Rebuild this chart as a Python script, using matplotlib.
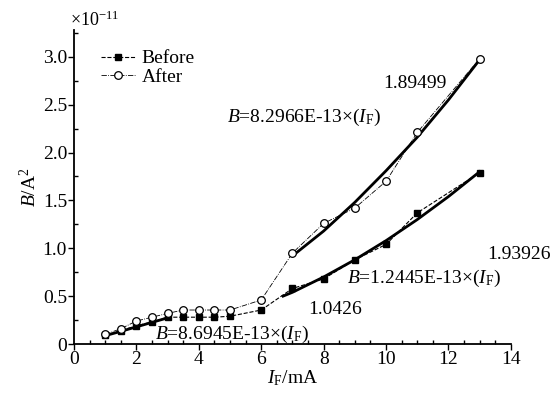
import matplotlib

matplotlib.use("Agg")

import matplotlib.pyplot as plt
from matplotlib.ticker import MultipleLocator

plt.rcParams["font.family"] = ["Liberation Serif", "DejaVu Serif"]
plt.rcParams["mathtext.fontset"] = "custom"
plt.rcParams["mathtext.rm"] = "Liberation Serif"
plt.rcParams["mathtext.it"] = "Liberation Serif:italic"

# measured points (B in units of 1e-11 A^2)
current_ma = [1, 1.5, 2, 2.5, 3, 3.5, 4, 4.5, 5, 6, 7, 8, 9, 10, 11, 13]
before_b = [0.09, 0.14, 0.19, 0.23, 0.28, 0.28, 0.28, 0.28, 0.29, 0.355, 0.58, 0.68, 0.88, 1.04, 1.37, 1.79]
after_b = [0.10, 0.16, 0.24, 0.28, 0.32, 0.355, 0.355, 0.355, 0.355, 0.46, 0.95, 1.26, 1.42, 1.70, 2.21, 2.98]

# fitted curves
fit_low_x = [1, 1.5, 2, 2.5, 3]
fit_low_b = [0.087, 0.132, 0.179, 0.226, 0.273]
fit_before_x = [6.7, 7, 8, 9, 10, 11, 12, 13]
fit_before_b = [0.50, 0.54, 0.70, 0.88, 1.08, 1.30, 1.54, 1.80]
fit_after_x = [7, 8, 9, 10, 11, 12, 13]
fit_after_b = [0.92, 1.18, 1.48, 1.81, 2.16, 2.55, 2.97]

fig = plt.figure(figsize=(5.54, 3.97), dpi=100)
ax = fig.add_axes([0.1336, 0.1335, 0.7886, 0.791])

ax.plot(fit_low_x, fit_low_b, color="black", linewidth=2.0)
ax.plot(fit_before_x, fit_before_b, color="black", linewidth=2.0)
ax.plot(fit_after_x, fit_after_b, color="black", linewidth=2.0)

ax.plot(current_ma, before_b, color="black", linestyle="--", linewidth=0.8,
        marker="s", markersize=5, markerfacecolor="black", label="Before")
ax.plot(current_ma, after_b, color="black", linestyle="-.", linewidth=0.6,
        marker="o", markersize=5.5, markerfacecolor="white", markeredgewidth=0.9,
        label="After")

ax.set_xlim(0, 14)
ax.set_ylim(0, 3.28)
ax.xaxis.set_major_locator(MultipleLocator(2))
ax.xaxis.set_minor_locator(MultipleLocator(0.5))
ax.yaxis.set_minor_locator(MultipleLocator(0.25))
ax.set_yticks([0, 0.5, 1.0, 1.5, 2.0, 2.5, 3.0])
ax.set_yticklabels(["0", "0.5", "1.0", "1.5", "2.0", "2.5", "3.0"])
ax.tick_params(which="major", direction="out", length=4, width=1, labelsize=14, pad=1)
ax.tick_params(which="minor", direction="in", length=3, width=1)

ax.spines["top"].set_visible(False)
ax.spines["right"].set_visible(False)
ax.spines["left"].set_linewidth(1.3)
ax.spines["bottom"].set_linewidth(1.3)

ax.set_xlabel(r"$I_{\rm F}$/mA", fontsize=14, labelpad=0)
ax.set_ylabel(r"$B$/A$^2$", fontsize=14, labelpad=2)
ax.text(-0.01, 1.0, r"×10$^{-11}$", transform=ax.transAxes, fontsize=13,
        ha="left", va="bottom")

ax.legend(loc="upper left", bbox_to_anchor=(0.03, 0.98), frameon=False,
          fontsize=14, handlelength=1.8, handletextpad=0.3, borderpad=0.2,
          labelspacing=0.05)

ax.text(9.9, 2.72, "1.89499", fontsize=14, va="center")
ax.text(4.9, 2.37, r"$B$=8.2966E-13×($I_{\rm F}$)", fontsize=14, va="center")
ax.text(13.25, 0.93, "1.93926", fontsize=14, va="center", clip_on=False)
ax.text(8.75, 0.68, r"$B$=1.2445E-13×($I_{\rm F}$)", fontsize=14, va="center")
ax.text(7.5, 0.36, "1.0426", fontsize=14, va="center")
ax.text(2.6, 0.10, r"$B$=8.6945E-13×($I_{\rm F}$)", fontsize=14, va="center")

fig.savefig("out.png", dpi=100)
